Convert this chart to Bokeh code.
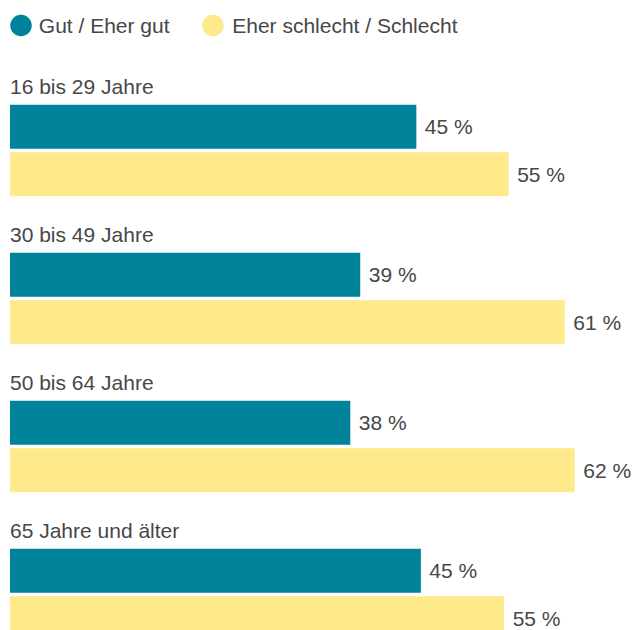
from bokeh.plotting import figure
from bokeh.models import Range1d, ColumnDataSource
from bokeh.core.properties import value
from bokeh.embed import file_html
from bokeh.resources import INLINE

# ---- data ----
groups = ["16 bis 29 Jahre", "30 bis 49 Jahre", "50 bis 64 Jahre", "65 Jahre und älter"]
gut = [44.9, 38.7, 37.6, 45.4]
schlecht = [55.1, 61.3, 62.4, 54.6]
gut_labels = ["45 %", "39 %", "38 %", "45 %"]
schlecht_labels = ["55 %", "61 %", "62 %", "55 %"]
series_names = ["Gut / Eher gut", "Eher schlecht / Schlecht"]

# ---- style ----
TEAL = "#00829a"
YELLOW = "#fee98b"
TEXT = "#474747"
FONT = "Liberation Sans"
FS = "21px"

W, H = 635, 630
LEFT = 9.5          # pixel position of 0 %
S = 9.05            # pixels per percent
def px(x):
    return (x - LEFT) / S

p = figure(width=W, height=H, output_backend="svg", toolbar_location=None,
           x_range=Range1d(px(0), px(W)), y_range=Range1d(H, 0),
           min_border=0, outline_line_color=None)
p.axis.visible = False
p.grid.visible = False
p.background_fill_color = "white"
p.border_fill_color = "white"

GROUP_TOP0, GROUP_STEP, BAR_H, BAR_GAP = 104.3, 148.0, 44.0, 3.5
tops = [GROUP_TOP0 + i * GROUP_STEP for i in range(len(groups))]
y_gut = [t + BAR_H / 2 for t in tops]
y_sch = [t + BAR_H * 1.5 + BAR_GAP for t in tops]
y_lab = [t - 18 for t in tops]

src_g = ColumnDataSource(dict(y=y_gut, v=gut, lab=gut_labels))
src_s = ColumnDataSource(dict(y=y_sch, v=schlecht, lab=schlecht_labels))
src_c = ColumnDataSource(dict(y=y_lab, name=groups))

p.hbar(y="y", left=0, right="v", height=BAR_H, source=src_g,
       fill_color=TEAL, line_color=None)
p.hbar(y="y", left=0, right="v", height=BAR_H, source=src_s,
       fill_color=YELLOW, line_color=None)

for src in (src_g, src_s):
    p.text(x="v", y="y", text="lab", source=src, x_offset=8.5,
           text_font=value(FONT), text_font_size=FS, text_color=TEXT,
           text_baseline="middle", text_align="left")

p.text(x=0, y="y", text="name", source=src_c,
       text_font=value(FONT), text_font_size=FS, text_color=TEXT,
       text_baseline="middle", text_align="left")

# legend
leg_x = [px(20.5), px(212.5)]
leg_tx = [px(38.3), px(231.7)]
p.scatter(x=leg_x, y=[25, 25], size=21.5, marker="circle",
          fill_color=[TEAL, YELLOW], line_color=None)
p.text(x=leg_tx, y=[25, 25], text=series_names,
       text_font=value(FONT), text_font_size=FS, text_color=TEXT,
       text_baseline="middle", text_align="left")

open("out.html", "w").write(file_html(p, INLINE))
